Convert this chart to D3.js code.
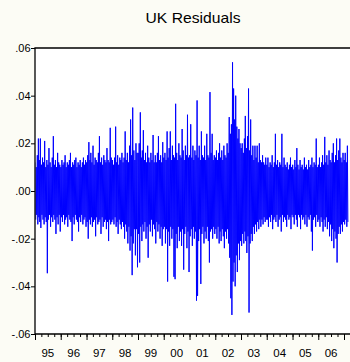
<!DOCTYPE html>
<html>
<head>
<meta charset="utf-8">
<script src="https://cdn.jsdelivr.net/npm/d3@7"></script>
<style>
  body { margin: 0; background: #fcfcf5; }
  text { font-family: Arial, "Liberation Sans", sans-serif; }
</style>
</head>
<body>
<div id="chart"></div>
<script>
// Residuals, one high and one low per half month,
// starting Jan 1995 (24 bins a year).
const hiVals = [
  // 1995
  .012, .010, .015, .022, .013, .022, .011, .014, .012, .021, .010, .013,
  .011, .018, .012, .010, .014, .023, .011, .013, .010, .016, .012, .011,
  // 1996
  .010, .013, .011, .012, .015, .010, .012, .011, .013, .016, .010, .012,
  .011, .013, .014, .010, .012, .011, .013, .010, .012, .014, .011, .013,
  // 1997
  .012, .015, .0205, .013, .016, .012, .019, .011, .014, .013, .012, .016,
  .023, .012, .014, .011, .015, .013, .012, .018, .013, .012, .0265, .014,
  // 1998
  .013, .011, .014, .027, .012, .015, .011, .014, .013, .016, .012, .014,
  .025, .013, .016, .012, .019, .030, .015, .035, .017, .013, .020, .016,
  // 1999
  .016, .020, .033, .014, .017, .0255, .013, .016, .012, .019, .014, .012,
  .016, .013, .0235, .012, .015, .012, .016, .023, .013, .015, .012, .0205,
  // 2000
  .014, .016, .013, .025, .014, .018, .025, .013, .019, .015, .014, .0366,
  .016, .013, .020, .015, .014, .026, .017, .013, .019, .015, .032, .014,
  // 2001
  .015, .028, .014, .019, .013, .017, .015, .038, .014, .019, .013, .025,
  .015, .014, .019, .013, .024, .015, .014, .0415, .016, .024, .013, .015,
  // 2002
  .014, .017, .013, .016, .020, .014, .017, .013, .019, .015, .014, .020,
  .016, .031, .024, .028, .054, .043, .030, .040, .027, .022, .026, .020,
  // 2003
  .018, .020, .016, .022, .0315, .018, .023, .043, .017, .030, .015, .019,
  .013, .019, .014, .019, .012, .020, .013, .012, .015, .012, .011, .014,
  // 2004
  .011, .014, .010, .012, .011, .015, .010, .012, .024, .011, .013, .010,
  .012, .011, .024, .010, .014, .011, .010, .012, .009, .011, .014, .010,
  // 2005
  .011, .009, .013, .010, .018, .011, .009, .013, .010, .011, .009, .014,
  .010, .011, .009, .013, .010, .011, .014, .010, .012, .011, .022, .010,
  // 2006
  .011, .014, .010, .012, .015, .011, .0227, .012, .015, .011, .017, .013,
  .012, .016, .020, .012, .015, .022, .013, .017, .022, .014, .012, .016,
  // 2007
  .013, .016, .012, .019
];

const loVals = [
  // 1995
  -.012, -.010, -.014, -.011, -.013, -.0155, -.010, -.012, -.014, -.011, -.013, -.0345,
  -.012, -.010, -.015, -.011, -.013, -.010, -.012, -.018, -.011, -.014, -.010, -.017,
  // 1996
  -.011, -.013, -.010, -.014, -.012, -.011, -.015, -.010, -.012, -.013, -.021, -.011,
  -.014, -.010, -.012, -.013, -.017, -.011, -.013, -.010, -.014, -.012, -.011, -.015,
  // 1997
  -.013, -.020, -.012, -.014, -.011, -.015, -.013, -.012, -.019, -.011, -.014, -.013,
  -.012, -.018, -.011, -.015, -.013, -.012, -.016, -.013, -.021, -.012, -.014, -.013,
  // 1998
  -.012, -.014, -.011, -.015, -.013, -.018, -.012, -.014, -.016, -.013, -.015, -.020,
  -.014, -.017, -.022, -.015, -.025, -.019, -.0353, -.022, -.016, -.027, -.016, -.032,
  // 1999
  -.018, -.030, -.015, -.021, -.014, -.017, -.013, -.020, -.015, -.028, -.014, -.017,
  -.012, -.019, -.014, -.016, -.022, -.013, -.017, -.014, -.020, -.015, -.023, -.016,
  // 2000
  -.015, -.022, -.016, -.038, -.017, -.023, -.015, -.020, -.016, -.036, -.037, -.018,
  -.024, -.015, -.021, -.017, -.023, -.016, -.033, -.018, -.015, -.024, -.017, -.034,
  // 2001
  -.019, -.016, -.023, -.015, -.020, -.017, -.046, -.044, -.021, -.016, -.039, -.018,
  -.015, -.022, -.017, -.020, -.015, -.021, -.030, -.017, -.016, -.020, -.015, -.018,
  // 2002
  -.016, -.020, -.015, -.022, -.017, -.021, -.016, -.019, -.024, -.017, -.020, -.016,
  -.022, -.028, -.045, -.052, -.038, -.030, -.040, -.027, -.034, -.022, -.029, -.021,
  // 2003
  -.023, -.018, -.022, -.017, -.021, -.026, -.019, -.051, -.022, -.018, -.021, -.015,
  -.018, -.014, -.017, -.013, -.016, -.012, -.015, -.012, -.014, -.011, -.013, -.012,
  // 2004
  -.012, -.015, -.011, -.013, -.010, -.016, -.012, -.011, -.013, -.010, -.015, -.012,
  -.011, -.017, -.010, -.013, -.011, -.012, -.015, -.010, -.012, -.011, -.016, -.010,
  // 2005
  -.011, -.014, -.010, -.012, -.015, -.010, -.011, -.016, -.010, -.012, -.011, -.014,
  -.010, -.015, -.011, -.012, -.010, -.017, -.025, -.012, -.011, -.015, -.010, -.013,
  // 2006
  -.012, -.015, -.011, -.013, -.017, -.012, -.015, -.011, -.016, -.013, -.019, -.014,
  -.021, -.016, -.024, -.017, -.020, -.030, -.018, -.015, -.018, -.014, -.017, -.013,
  // 2007
  -.014, -.012, -.015, -.013
];

const yTicks = [-0.06, -0.04, -0.02, 0, 0.02, 0.04, 0.06];
const yearLabels = ['95', '96', '97', '98', '99', '00', '01', '02', '03', '04', '05', '06'];

const width = 350;
const height = 362;
const plot = { left: 35, top: 48, bottom: 334, right: 362 };

// Build the zigzag: each half-month bin gives a high then a low point
const points = [];
hiVals.forEach((h, i) => {
  const year = 1995 + Math.floor(i / 24);
  const half = i % 24;
  const month = Math.floor(half / 2);
  const day = half % 2 ? 16 : 1;
  points.push({ date: new Date(year, month, day + 2), v: h });
  points.push({ date: new Date(year, month, day + 9), v: loVals[i] });
});

const svg = d3.select('#chart')
  .append('svg')
  .attr('width', width)
  .attr('height', height);

svg.append('rect')
  .attr('width', width)
  .attr('height', height)
  .attr('fill', '#fcfcf5');

svg.append('rect')
  .attr('x', plot.left)
  .attr('y', plot.top)
  .attr('width', plot.right - plot.left)
  .attr('height', plot.bottom - plot.top)
  .attr('fill', '#ffffff');

const x = d3.scaleTime()
  .domain([new Date(1995, 0, 1), new Date(2007, 0, 1)])
  .range([plot.left, 344]);

const y = d3.scaleLinear()
  .domain([-0.06, 0.06])
  .range([plot.bottom, plot.top]);

// the series
svg.append('clipPath').attr('id', 'clip')
  .append('rect')
  .attr('x', plot.left + 0.5)
  .attr('y', plot.top)
  .attr('width', plot.right - plot.left)
  .attr('height', plot.bottom - plot.top);

svg.append('path')
  .datum(points)
  .attr('clip-path', 'url(#clip)')
  .attr('fill', 'none')
  .attr('stroke', '#0000ff')
  .attr('stroke-width', 1)
  .attr('d', d3.line().x(d => x(d.date)).y(d => y(d.v)));

// frame: top, left, bottom
svg.append('path')
  .attr('fill', 'none')
  .attr('stroke', '#000')
  .attr('stroke-width', 1.3)
  .attr('d', `M${width},${plot.top}H${plot.left}V${plot.bottom}H${width}`);

// y axis
const fmt = d => {
  const s = d3.format('.2f')(Math.abs(d)).replace(/^0/, '');
  return d < 0 ? '-' + s : s;
};
const yAxis = svg.append('g')
  .attr('transform', `translate(${plot.left},0)`)
  .call(d3.axisLeft(y).tickValues(yTicks).tickFormat(fmt).tickSize(4).tickSizeOuter(0));
yAxis.select('.domain').remove();
yAxis.selectAll('text')
  .attr('font-size', 11)
  .attr('fill', '#000')
  .attr('x', -4.5);

// x axis: quarter ticks, longer year ticks, labels centred in each year
const quarters = d3.timeMonth.range(new Date(1995, 0, 1), new Date(2007, 4, 1), 3);
const xMinor = svg.append('g')
  .attr('transform', `translate(0,${plot.bottom})`)
  .call(d3.axisBottom(x).tickValues(quarters).tickFormat('').tickSize(3).tickSizeOuter(0));
xMinor.select('.domain').remove();

const years = d3.timeYear.range(new Date(1995, 0, 1), new Date(2008, 0, 1));
const xMajor = svg.append('g')
  .attr('transform', `translate(0,${plot.bottom})`)
  .call(d3.axisBottom(x).tickValues(years).tickFormat('').tickSize(6).tickSizeOuter(0));
xMajor.select('.domain').remove();

svg.append('g')
  .selectAll('text')
  .data(yearLabels)
  .join('text')
  .attr('x', (d, i) => x(new Date(1995 + i, 6, 2)))
  .attr('y', 357)
  .attr('text-anchor', 'middle')
  .attr('font-size', 11.5)
  .attr('fill', '#000')
  .text(d => d);

// title
svg.append('text')
  .attr('transform', 'translate(193,23) scale(1.12,1)')
  .attr('text-anchor', 'middle')
  .attr('font-size', 14)
  .attr('fill', '#000')
  .text('UK Residuals');
</script>
</body>
</html>
